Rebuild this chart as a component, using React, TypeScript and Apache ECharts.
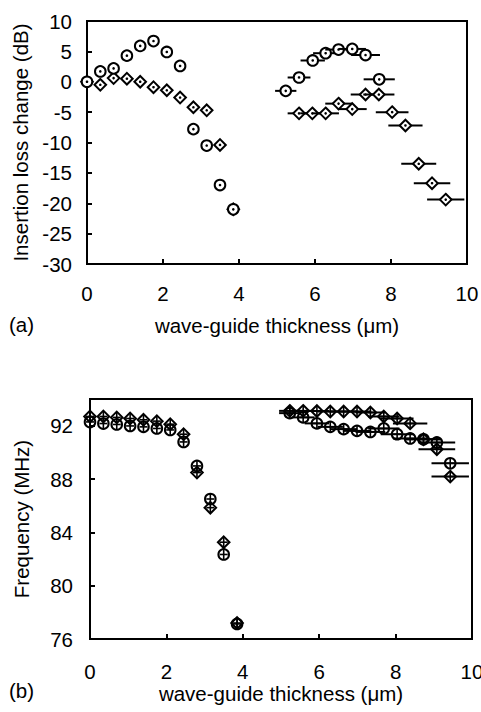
import React, { useEffect, useRef } from "react";
import * as echarts from "echarts";

// ---- Data: (a) insertion loss change (dB) ----
const xLeft = [0, 0.35, 0.7, 1.05, 1.4, 1.75, 2.1, 2.45, 2.8, 3.15, 3.5, 3.85];
const lossCircleLeft = [0, 1.7, 2.2, 4.3, 5.9, 6.7, 4.9, 2.6, -7.8, -10.5, -17, -21];
const lossDiamondLeft = [0, -0.5, 0.6, 0.5, 0, -0.9, -1.4, -2.6, -4.2, -4.7, -10.4, -21];

const xCircleRightA = [5.23, 5.58, 5.94, 6.28, 6.62, 6.98, 7.33, 7.69];
const lossCircleRight = [-1.5, 0.7, 3.5, 4.7, 5.3, 5.4, 4.4, 0.4];
const errCircleRightA = [0.28, 0.3, 0.32, 0.33, 0.35, 0.36, 0.38, 0.41];

const xDiamondRightA = [5.58, 5.93, 6.28, 6.62, 6.98, 7.33, 7.68, 8.03, 8.38, 8.73, 9.08, 9.44];
const lossDiamondRight = [-5.2, -5.2, -5.2, -3.6, -4.5, -2.1, -2.1, -5.0, -7.2, -13.5, -16.7, -19.4];
const errDiamondRightA = [0.3, 0.32, 0.35, 0.35, 0.38, 0.39, 0.41, 0.43, 0.45, 0.46, 0.48, 0.49];

// ---- Data: (b) frequency (MHz) ----
const freqCircleLeft = [92.28, 92.16, 92.09, 91.98, 91.91, 91.79, 91.68, 90.78, 88.98, 86.5, 82.34, 77.13];
const freqDiamondLeft = [92.69, 92.69, 92.62, 92.54, 92.44, 92.34, 92.11, 91.36, 88.48, 85.85, 83.26, 77.2];

const xRightB = [5.23, 5.58, 5.94, 6.29, 6.64, 6.99, 7.34, 7.69, 8.04, 8.38, 8.73, 9.08, 9.43];
const freqCircleRight = [92.94, 92.62, 92.17, 91.91, 91.74, 91.61, 91.53, 91.79, 91.36, 91.04, 90.98, 90.74, 89.18];
const freqDiamondRight = [93.11, 93.11, 93.1, 93.06, 93.06, 93.06, 92.99, 92.69, 92.54, 92.17, 90.98, 90.23, 88.18];
const errRightB = [0.28, 0.3, 0.32, 0.33, 0.35, 0.37, 0.39, 0.41, 0.43, 0.45, 0.46, 0.48, 0.49];

const xTicks = [0, 2, 4, 6, 8, 10];

const FONT = "'Liberation Sans', Arial, sans-serif";
const FS = 20.5;

function pts(xs: number[], ys: number[], errs?: number[]) {
  return xs.map((x, i) => [x, ys[i], errs ? errs[i] : 0]);
}

function makeRender(shape: "circle" | "diamond", crosshair: boolean) {
  return (params: any, api: any) => {
    const x = api.value(0);
    const y = api.value(1);
    const e = api.value(2);
    const c = api.coord([x, y]);
    const children: any[] = [];
    if (e > 0) {
      const l = api.coord([x - e, y]);
      const r = api.coord([x + e, y]);
      children.push({
        type: "line",
        shape: { x1: l[0], y1: c[1], x2: r[0], y2: c[1] },
        style: { stroke: "#000", lineWidth: 2 },
      });
    }
    const fill = crosshair ? "rgba(0,0,0,0)" : "#fff";
    if (shape === "circle") {
      children.push({
        type: "circle",
        shape: { cx: c[0], cy: c[1], r: 5.3 },
        style: { fill, stroke: "#000", lineWidth: 2 },
      });
    } else {
      const s = 5.8;
      children.push({
        type: "polygon",
        shape: {
          points: [
            [c[0], c[1] - s],
            [c[0] + s, c[1]],
            [c[0], c[1] + s],
            [c[0] - s, c[1]],
          ],
        },
        style: { fill, stroke: "#000", lineWidth: 2 },
      });
    }
    if (crosshair) {
      children.push({
        type: "line",
        shape: { x1: c[0], y1: c[1] - 5, x2: c[0], y2: c[1] + 5 },
        style: { stroke: "#000", lineWidth: 1.6 },
      });
      children.push({
        type: "line",
        shape: { x1: c[0] - 4, y1: c[1], x2: c[0] + 4, y2: c[1] },
        style: { stroke: "#000", lineWidth: 1.6 },
      });
    } else {
      children.push({
        type: "circle",
        shape: { cx: c[0], cy: c[1], r: 1.3 },
        style: { fill: "#000" },
      });
    }
    return { type: "group", children };
  };
}

function series(gi: number, data: number[][], shape: "circle" | "diamond", crosshair: boolean) {
  return {
    type: "custom",
    xAxisIndex: gi,
    yAxisIndex: gi,
    data,
    encode: { x: 0, y: 1 },
    clip: false,
    renderItem: makeRender(shape, crosshair),
  };
}

const axisLine = { show: true, onZero: false, lineStyle: { color: "#000", width: 2 } };
const axisTick = { show: true, inside: true, length: 5, lineStyle: { color: "#000", width: 2 } };
const nameStyle = { color: "#000", fontSize: FS, fontFamily: FONT };
const labelStyle = { color: "#000", fontSize: FS, fontFamily: FONT };

export default function App() {
  const ref = useRef<HTMLDivElement>(null);
  useEffect(() => {
    if (!ref.current) return;
    const chart = echarts.init(ref.current, undefined, { renderer: "svg" });
    const option: any = {
      animation: false,
      backgroundColor: "#fff",
      grid: [
        { left: 87, top: 21, width: 380, height: 243, show: true, borderColor: "#000", borderWidth: 2, backgroundColor: "transparent", containLabel: false, outerBoundsMode: "none" },
        { left: 90, top: 399, width: 382, height: 240, show: true, borderColor: "#000", borderWidth: 2, backgroundColor: "transparent", containLabel: false, outerBoundsMode: "none" },
      ],
      xAxis: [
        {
          gridIndex: 0, type: "value", min: xTicks[0], max: xTicks[xTicks.length - 1], interval: 2,
          axisLine, axisTick, splitLine: { show: false },
          axisLabel: { ...labelStyle, margin: 19 },
          name: "wave-guide thickness (\u03bcm)", nameLocation: "middle", nameGap: 51, nameTextStyle: nameStyle,
        },
        {
          gridIndex: 1, type: "value", min: xTicks[0], max: xTicks[xTicks.length - 1], interval: 2,
          axisLine, axisTick, splitLine: { show: false },
          axisLabel: { ...labelStyle, margin: 22 },
          name: "wave-guide thickness (\u03bcm)", nameLocation: "middle", nameGap: 42, nameTextStyle: nameStyle,
        },
      ],
      yAxis: [
        {
          gridIndex: 0, type: "value", min: -30, max: 10, interval: 5,
          axisLine, axisTick, splitLine: { show: false },
          axisLabel: { ...labelStyle, margin: 15 },
          name: "Insertion loss change (dB)", nameLocation: "middle", nameGap: 54, nameTextStyle: nameStyle,
        },
        {
          gridIndex: 1, type: "value", min: 76, max: 94, interval: 4,
          axisLine, axisTick, splitLine: { show: false },
          axisLabel: { ...labelStyle, margin: 17, showMaxLabel: false },
          name: "Frequency (MHz)", nameLocation: "middle", nameGap: 58, nameTextStyle: nameStyle,
        },
      ],
      graphic: [
        { type: "text", left: 9, top: 314, style: { text: "(a)", fill: "#000", font: `${FS}px ${FONT}` } },
        { type: "text", left: 9, top: 680, style: { text: "(b)", fill: "#000", font: `${FS}px ${FONT}` } },
      ],
      series: [
        series(0, pts(xLeft, lossDiamondLeft), "diamond", false),
        series(0, pts(xLeft, lossCircleLeft), "circle", false),
        series(0, pts(xDiamondRightA, lossDiamondRight, errDiamondRightA), "diamond", false),
        series(0, pts(xCircleRightA, lossCircleRight, errCircleRightA), "circle", false),
        series(1, pts(xLeft, freqCircleLeft), "circle", true),
        series(1, pts(xLeft, freqDiamondLeft), "diamond", true),
        series(1, pts(xRightB, freqCircleRight, errRightB), "circle", true),
        series(1, pts(xRightB, freqDiamondRight, errRightB), "diamond", true),
      ],
    };
    chart.setOption(option);
    return () => chart.dispose();
  }, []);
  return (
    <div
      ref={ref}
      style={{ position: "fixed", left: 0, top: 0, width: 481, height: 712, background: "#fff" }}
    />
  );
}
